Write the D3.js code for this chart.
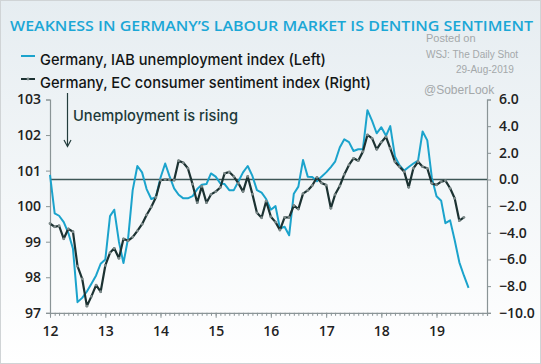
<!DOCTYPE html>
<html>
<head>
<meta charset="utf-8">
<script src="https://cdn.jsdelivr.net/npm/d3@7"></script>
<style>
html,body{margin:0;padding:0;background:#fff;}
svg{display:block;}
</style>
</head>
<body>
<svg id="chart" width="541" height="364"></svg>
<script>
// ---- data ----
const startMonth = "2012-01";
const unemploymentIndex = [100.88,99.8,99.73,99.55,99.25,98.8,97.3,97.42,97.6,97.82,98.05,98.38,
  98.5,99.72,99.9,99.0,98.4,99.1,100.45,101.13,100.95,100.48,100.2,100.25,
  100.8,101.2,100.85,100.5,100.32,100.22,100.22,100.28,100.48,100.6,100.62,100.92,
  100.83,100.64,100.62,100.45,100.45,100.7,100.95,101.13,100.85,100.45,100.38,100.2,
  99.9,100.0,99.37,99.42,99.18,100.35,100.55,101.3,100.83,100.82,100.7,100.83,
  100.95,101.1,101.25,101.65,101.88,101.8,101.55,101.6,101.6,102.7,102.4,102.05,
  102.22,101.98,102.25,101.4,101.15,101.0,101.1,101.2,101.28,102.1,101.85,100.8,
  100.28,100.15,99.52,99.6,99.05,98.42,98.05,97.7];
const consumerSentiment = [-3.3,-3.55,-3.47,-4.45,-3.7,-3.92,-6.5,-7.45,-9.5,-8.77,-7.92,-8.42,
  -6.45,-5.5,-5.16,-5.91,-4.45,-4.59,-4.32,-3.85,-3.35,-2.66,-2.06,-1.35,
  -0.06,0.0,-0.03,-0.05,1.41,1.25,0.84,-0.35,-1.74,-0.52,-1.74,-1.12,
  -0.91,-0.6,0.46,0.56,0.22,-0.29,-0.91,0.23,-1.1,-2.5,-2.87,-1.63,
  -2.79,-3.2,-3.79,-2.84,-2.85,-1.95,-2.22,-1.06,-0.82,-0.45,0.16,-0.26,
  -0.42,-2.16,-1.13,-0.49,0.38,1.09,1.59,1.41,2.09,3.34,3.09,2.26,
  2.8,3.2,2.34,1.33,0.96,0.59,-0.59,0.84,1.33,0.96,0.84,-0.29,
  -0.41,-0.16,-0.09,-0.66,-1.41,-3.09,-2.84];
const leftTicks = [97,98,99,100,101,102,103];
const rightTicks = [-10,-8,-6,-4,-2,0,2,4,6];
const yearTicks = ["12","13","14","15","16","17","18","19"];
const seriesNames = ["Germany, IAB unemployment index (Left)","Germany, EC consumer sentiment index (Right)"];
const titleText = "WEAKNESS IN GERMANY\u2019S LABOUR MARKET IS DENTING SENTIMENT";
const annotationText = "Unemployment is rising";
const watermark = ["Posted on","WSJ: The Daily Shot","29-Aug-2019","@SoberLook"];

// ---- setup ----
const svg = d3.select("#chart");
const W = 541, H = 364;
const defs = svg.append("defs");
const grad = defs.append("linearGradient").attr("id","bg").attr("x1",0).attr("y1",0).attr("x2",0).attr("y2",1);
grad.append("stop").attr("offset","0%").attr("stop-color","#e6edf1");
grad.append("stop").attr("offset","100%").attr("stop-color","#ffffff");
svg.append("rect").attr("x",0.5).attr("y",0.5).attr("width",W-1).attr("height",H-1)
  .attr("fill","url(#bg)").attr("stroke","#d0d4d6");

const parse = d3.timeParse("%Y-%m");
const t0 = parse(startMonth);
const datesU = unemploymentIndex.map((v,i)=>d3.timeMonth.offset(t0,i));
const datesS = consumerSentiment.map((v,i)=>d3.timeMonth.offset(t0,i));

const x = d3.scaleTime().domain([t0, parse("2019-12")]).range([50, 487]);
const yL = d3.scaleLinear().domain([97,103]).range([312.8, 99.5]);
const yR = d3.scaleLinear().domain([-10,6]).range([312.8, 99.5]);

const axisColor = "#8a9496";
const font = "'Open Sans', 'DejaVu Sans', sans-serif";
const textFont = "Inter, 'Open Sans', sans-serif";

// ---- axes ----
const gL = svg.append("g").attr("transform","translate(50,0)")
  .call(d3.axisLeft(yL).tickValues(leftTicks).tickSize(4).tickPadding(5).tickFormat(d3.format("d")));
const gR = svg.append("g").attr("transform","translate(487,0)")
  .call(d3.axisRight(yR).tickValues(rightTicks).tickSize(4).tickPadding(8).tickFormat(d3.format(".1f")));
const monthTicks = d3.timeMonth.range(t0, d3.timeMonth.offset(parse("2019-12"),1));
const gB = svg.append("g").attr("transform","translate(0,312.8)")
  .call(d3.axisBottom(x).tickValues(monthTicks).tickSize(3).tickFormat(""));
const yearDates = yearTicks.map(s=>parse("20"+s+"-01"));
const gB2 = svg.append("g").attr("transform","translate(0,312.8)")
  .call(d3.axisBottom(x).tickValues(yearDates).tickSize(5).tickPadding(8)
    .tickFormat((d,i)=>yearTicks[i]));
[gL,gR,gB,gB2].forEach(g=>{
  g.select(".domain").attr("stroke",axisColor).attr("stroke-width",1.2);
  g.selectAll(".tick line").attr("stroke",axisColor);
  g.selectAll(".tick text").attr("fill","#1e2222").attr("font-family",font)
    .attr("font-size",14).attr("font-weight",600);
});
gR.selectAll(".tick text").attr("x",12);
gB2.select(".domain").remove();

// zero line (right axis)
svg.append("line").attr("x1",50).attr("x2",487).attr("y1",yR(0)).attr("y2",yR(0))
  .attr("stroke","#3d5656").attr("stroke-width",1.3);

// ---- series ----
const lineU = d3.line().x((d,i)=>x(datesU[i])).y(d=>yL(d));
const lineS = d3.line().x((d,i)=>x(datesS[i])).y(d=>yR(d));
svg.append("path").datum(unemploymentIndex).attr("d",lineU).attr("fill","none")
  .attr("stroke","#1ba3cc").attr("stroke-width",2).attr("stroke-linejoin","round");
svg.append("path").datum(consumerSentiment).attr("d",lineS).attr("fill","none")
  .attr("stroke","#1c3232").attr("stroke-width",2.2).attr("stroke-linejoin","round");
svg.append("g").selectAll("circle").data(consumerSentiment).join("circle")
  .attr("cx",(d,i)=>x(datesS[i])).attr("cy",d=>yR(d)).attr("r",1.4)
  .attr("fill","#7d8a8a");

// ---- title ----
svg.append("text").attr("x",10).attr("y",31).text(titleText)
  .attr("font-family",font).attr("font-size",14).attr("font-weight",600)
  .attr("fill","#1ba7d6").attr("textLength",523).attr("lengthAdjust","spacingAndGlyphs");

// ---- legend ----
const leg = svg.append("g");
leg.append("line").attr("x1",21).attr("x2",35).attr("y1",56).attr("y2",56)
  .attr("stroke","#1ba3cc").attr("stroke-width",2);
leg.append("line").attr("x1",21).attr("x2",35).attr("y1",79).attr("y2",79)
  .attr("stroke","#1c3232").attr("stroke-width",2);
leg.append("circle").attr("cx",28).attr("cy",79).attr("r",1.4).attr("fill","#7d8a8a");
leg.append("text").attr("x",40).attr("y",65).text(seriesNames[0])
  .attr("font-family",textFont).attr("font-size",15).attr("font-weight",500).attr("fill","#121515")
  .attr("textLength",286).attr("lengthAdjust","spacingAndGlyphs");
leg.append("text").attr("x",40).attr("y",87.5).text(seriesNames[1])
  .attr("font-family",textFont).attr("font-size",15).attr("font-weight",500).attr("fill","#121515")
  .attr("textLength",331).attr("lengthAdjust","spacingAndGlyphs");

// ---- watermark ----
const wm = svg.append("g").attr("fill","#a4a8aa").attr("font-family","'Liberation Sans', Arial, sans-serif");
wm.append("text").attr("x",426).attr("y",42).attr("font-size",11).text(watermark[0]);
wm.append("text").attr("x",426).attr("y",57.5).attr("font-size",10).text(watermark[1]);
wm.append("text").attr("x",456).attr("y",73).attr("font-size",10).text(watermark[2]);
wm.append("text").attr("x",424).attr("y",94).attr("font-size",12).text(watermark[3]);

// ---- annotation ----
svg.append("text").attr("x",73).attr("y",120.5).text(annotationText)
  .attr("font-family",textFont).attr("font-size",15).attr("font-weight",500).attr("fill","#213a3a")
  .attr("textLength",165).attr("lengthAdjust","spacingAndGlyphs");
svg.append("line").attr("x1",67.5).attr("x2",67.5).attr("y1",93).attr("y2",146)
  .attr("stroke","#233d3d").attr("stroke-width",1.2);
svg.append("path").attr("d","M64,140 L67.5,146.5 L71,140").attr("fill","none")
  .attr("stroke","#233d3d").attr("stroke-width",1.2);
</script>
</body>
</html>
